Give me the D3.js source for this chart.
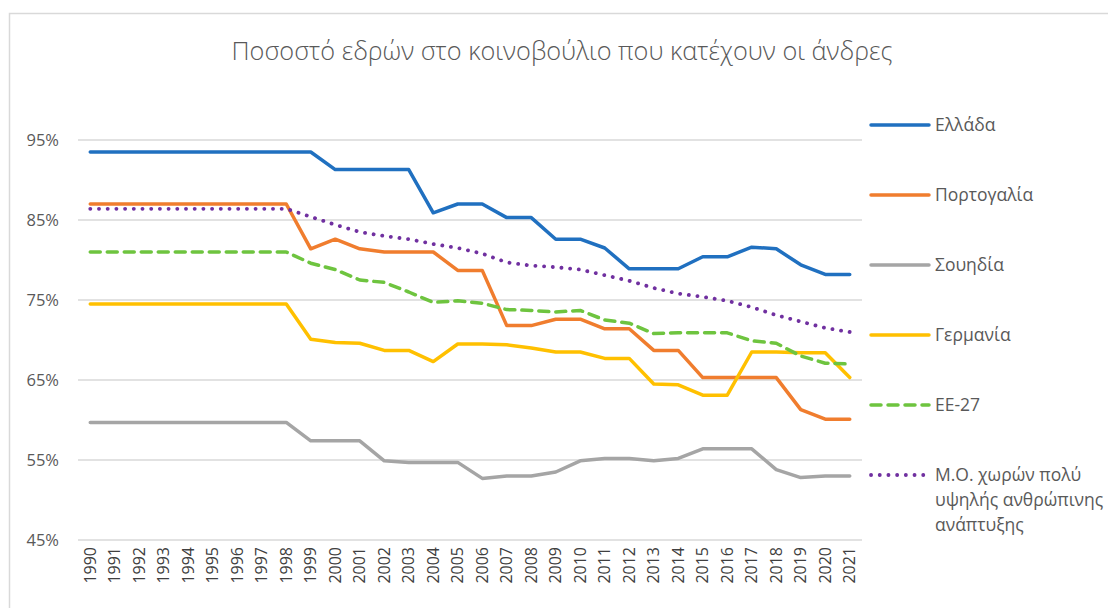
<!DOCTYPE html>
<html>
<head>
<meta charset="utf-8">
<script src="https://cdn.jsdelivr.net/npm/d3@7"></script>
<style>
  body { margin: 0; background: #fff; }
  svg { display: block; font-family: "Open Sans", "Noto Sans", sans-serif; }
</style>
</head>
<body>
<div id="chart"></div>
<script>
var years = ["1990","1991","1992","1993","1994","1995","1996","1997","1998","1999","2000","2001","2002","2003","2004","2005","2006","2007","2008","2009","2010","2011","2012","2013","2014","2015","2016","2017","2018","2019","2020","2021"];

var greece   = [93.5,93.5,93.5,93.5,93.5,93.5,93.5,93.5,93.5,93.5,91.3,91.3,91.3,91.3,85.9,87.0,87.0,85.3,85.3,82.6,82.6,81.5,78.9,78.9,78.9,80.4,80.4,81.6,81.4,79.4,78.2,78.2];
var portugal = [87.0,87.0,87.0,87.0,87.0,87.0,87.0,87.0,87.0,81.4,82.6,81.4,81.0,81.0,81.0,78.7,78.7,71.8,71.8,72.6,72.6,71.4,71.4,68.7,68.7,65.3,65.3,65.3,65.3,61.3,60.1,60.1];
var sweden   = [59.7,59.7,59.7,59.7,59.7,59.7,59.7,59.7,59.7,57.4,57.4,57.4,54.9,54.7,54.7,54.7,52.7,53.0,53.0,53.5,54.9,55.2,55.2,54.9,55.2,56.4,56.4,56.4,53.8,52.8,53.0,53.0];
var germany  = [74.5,74.5,74.5,74.5,74.5,74.5,74.5,74.5,74.5,70.1,69.7,69.6,68.7,68.7,67.3,69.5,69.5,69.4,69.0,68.5,68.5,67.7,67.7,64.5,64.4,63.1,63.1,68.5,68.5,68.4,68.4,65.3];
var eu27     = [81.0,81.0,81.0,81.0,81.0,81.0,81.0,81.0,81.0,79.6,78.8,77.5,77.2,76.0,74.7,74.9,74.6,73.8,73.7,73.5,73.7,72.5,72.1,70.8,70.9,70.9,70.9,69.9,69.6,68.0,67.1,67.0];
var veryHigh = [86.4,86.4,86.4,86.4,86.4,86.4,86.4,86.4,86.4,85.4,84.4,83.5,83.0,82.6,82.0,81.5,80.8,79.7,79.3,79.1,78.8,78.1,77.4,76.5,75.8,75.4,74.9,74.1,73.1,72.3,71.5,71.0];

var seriesNames = ["Ελλάδα", "Πορτογαλία", "Σουηδία", "Γερμανία", "ΕΕ-27", "Μ.Ο. χωρών πολύ υψηλής ανθρώπινης ανάπτυξης"];
var yTicks = [45, 55, 65, 75, 85, 95];
var title = "Ποσοστό εδρών στο κοινοβούλιο που κατέχουν οι άνδρες";

var series = [
    { name: seriesNames[0], values: greece,   color: "#2070c0", dash: null },
    { name: seriesNames[1], values: portugal, color: "#f07d2e", dash: null },
    { name: seriesNames[2], values: sweden,   color: "#a5a5a5", dash: null },
    { name: seriesNames[3], values: germany,  color: "#ffc000", dash: null },
    { name: seriesNames[4], values: eu27,     color: "#6ec43f", dash: "10,7" },
    { name: seriesNames[5], values: veryHigh, color: "#7030a0", dash: "0.1,8.6" }
];

var W = 1108, H = 608;
var margin = { top: 140, right: 246, bottom: 68, left: 78 };
var w = W - margin.left - margin.right;
var h = H - margin.top - margin.bottom;

var svg = d3.select("#chart").append("svg").attr("width", W).attr("height", H);

// outer frame (cut off at right and bottom)
svg.append("rect")
    .attr("x", 9.5).attr("y", 13.5)
    .attr("width", W + 20).attr("height", H + 20)
    .attr("fill", "none").attr("stroke", "#d9d9d9").attr("stroke-width", 1.5);

svg.append("text")
    .attr("x", 562).attr("y", 60)
    .attr("text-anchor", "middle")
    .attr("font-size", "25.3px")
    .attr("font-weight", 300)
    .attr("fill", "#595959")
    .text(title);

var g = svg.append("g").attr("transform", "translate(" + margin.left + "," + margin.top + ")");

var x = d3.scaleBand().domain(years).range([0, w]);
var y = d3.scaleLinear().domain([45, 95]).range([h, 0]);

// gridlines
g.selectAll("line.grid").data(yTicks).enter().append("line")
    .attr("class", "grid")
    .attr("x1", 0).attr("x2", w)
    .attr("y1", function (d) { return y(d); })
    .attr("y2", function (d) { return y(d); })
    .attr("stroke", "#d9d9d9").attr("stroke-width", 1.3);

// y axis
var yAxis = g.append("g")
    .call(d3.axisLeft(y).tickValues(yTicks).tickSize(0).tickPadding(19).tickFormat(function (d) { return d + "%"; }));
yAxis.select(".domain").remove();
yAxis.selectAll("text").attr("font-size", "16.5px").attr("fill", "#595959").attr("font-family", "Open Sans, sans-serif");

// x axis
var xAxis = g.append("g")
    .attr("transform", "translate(0," + h + ")")
    .call(d3.axisBottom(x).tickSize(0));
xAxis.select(".domain").remove();
xAxis.selectAll("text")
    .attr("font-size", "16px")
    .attr("fill", "#404040")
    .attr("font-family", "Open Sans, sans-serif")
    .attr("text-anchor", "end")
    .attr("dy", "0.35em")
    .attr("transform", "translate(0,7) rotate(-90)")
    .attr("x", 0).attr("y", 0);

var line = d3.line()
    .x(function (d, i) { return x(years[i]) + x.bandwidth() / 2; })
    .y(function (d) { return y(d); });

// draw in Excel order: first series at the bottom
series.forEach(function (s) {
    g.append("path")
        .datum(s.values)
        .attr("d", line)
        .attr("fill", "none")
        .attr("stroke", s.color)
        .attr("stroke-width", s.dash === "0.1,8.6" ? 3.8 : 3.5)
        .attr("stroke-linejoin", "round")
        .attr("stroke-linecap", "round")
        .attr("stroke-dasharray", s.dash);
});

// legend
var legend = svg.append("g");
var legendY = [125, 195, 265, 335, 405, 475];
series.forEach(function (s, i) {
    var ly = legendY[i];
    legend.append("line")
        .attr("x1", 871).attr("x2", 929)
        .attr("y1", ly).attr("y2", ly)
        .attr("stroke", s.color)
        .attr("stroke-width", s.dash === "0.1,8.6" ? 3.8 : 3.5)
        .attr("stroke-linecap", "round")
        .attr("stroke-dasharray", s.dash);
    var t = legend.append("text")
        .attr("x", 935).attr("y", ly + 6)
        .attr("font-size", "17.5px")
        .attr("fill", "#595959");
    if (i === 5) {
        ["Μ.Ο. χωρών πολύ", "υψηλής ανθρώπινης", "ανάπτυξης"].forEach(function (part, k) {
            t.append("tspan").attr("x", 935).attr("dy", k === 0 ? 0 : 25).text(part);
        });
    } else {
        t.text(s.name);
    }
});
</script>
</body>
</html>
